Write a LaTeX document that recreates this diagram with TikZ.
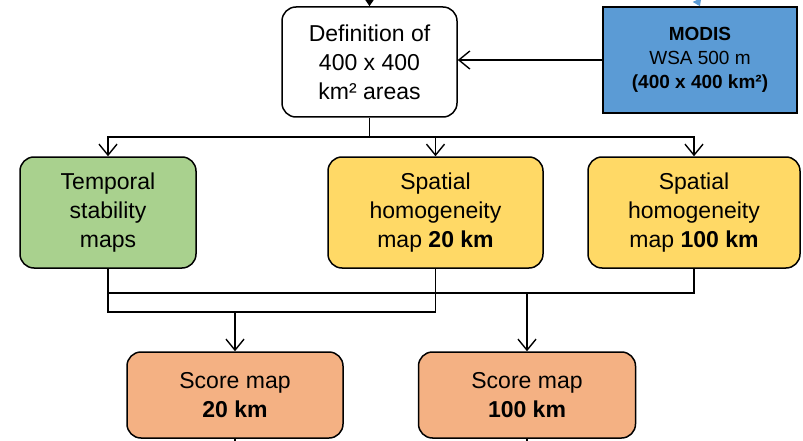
\documentclass[tikz,border=0pt]{standalone}
\usepackage{fontspec}
\setmainfont{Liberation Sans}
\usetikzlibrary{arrows.meta}
\definecolor{modisblue}{HTML}{5B9BD5}
\definecolor{stabgreen}{HTML}{A9D18E}
\definecolor{homyellow}{HTML}{FFD966}
\definecolor{scoreorange}{HTML}{F4B183}
\begin{document}
\begin{tikzpicture}[x=1pt,y=-1pt,
  box/.style={draw=black,line width=1.5pt,rounded corners=14pt,align=center,
    inner sep=0pt,font=\fontsize{23}{29}\selectfont},
  flow/.style={line width=1.4pt,-{Straight Barb[length=11pt,width=18pt,line width=1.4pt]}},
  link/.style={line width=1.4pt},
  feed/.style={line width=1.4pt,-{Triangle[length=7pt,width=9pt]}}]
\useasboundingbox (0,0) rectangle (803,441);
\node[box,fill=white,minimum width=175pt,minimum height=110pt] (defn) at (369.5,62) {Definition of\\400 x 400\\km² areas};
\node[draw=black,line width=1.5pt,fill=modisblue,align=center,inner sep=0pt,
  minimum width=194pt,minimum height=106pt,font=\fontsize{19}{24}\selectfont] (modis) at (700,60)
  {\textbf{MODIS}\\WSA 500 m\\\textbf{(400 x 400 km²)}};
\node[box,fill=stabgreen,minimum width=176pt,minimum height=111pt] (temporal) at (108,212.5) {Temporal\\stability\\maps};
\node[box,fill=homyellow,minimum width=215pt,minimum height=111pt] (spat20) at (435.5,212.5) {Spatial\\homogeneity\\map \textbf{20 km}};
\node[box,fill=homyellow,minimum width=212pt,minimum height=111pt] (spat100) at (694,212.5) {Spatial\\homogeneity\\map \textbf{100 km}};
\node[box,fill=scoreorange,minimum width=216pt,minimum height=86pt] (score20) at (235,395) {Score map\\\textbf{20 km}};
\node[box,fill=scoreorange,minimum width=217pt,minimum height=86pt] (score100) at (527,395) {Score map\\\textbf{100 km}};
\coordinate (feedA) at (369.5,0);
\coordinate (feedB) at (697,0);
\coordinate (split) at (369.5,137);
\coordinate (merge20) at (235,312);
\coordinate (merge100) at (527,293);
\coordinate (exit20) at (235,441);
\coordinate (exit100) at (527,441);
\draw[feed] (feedA) -- (defn.north);
\draw[feed,modisblue] (feedB) -- (modis.north);
\draw[flow] (modis.west) -- (modis.west -| defn.east);
\draw[link] (defn.south) -- (split);
\draw[flow] (split) -| (temporal.north);
\draw[flow] (split) -| (spat20.north);
\draw[flow] (split) -| (spat100.north);
\draw[link] (temporal.south) |- (merge20) -| (spat20.south);
\draw[link] (temporal.south) |- (merge100) -| (spat100.south);
\draw[flow] (merge20) -- (score20.north);
\draw[flow] (merge100) -- (score100.north);
\draw[link] (score20.south) -- (exit20);
\draw[link] (score100.south) -- (exit100);
\end{tikzpicture}
\end{document}
